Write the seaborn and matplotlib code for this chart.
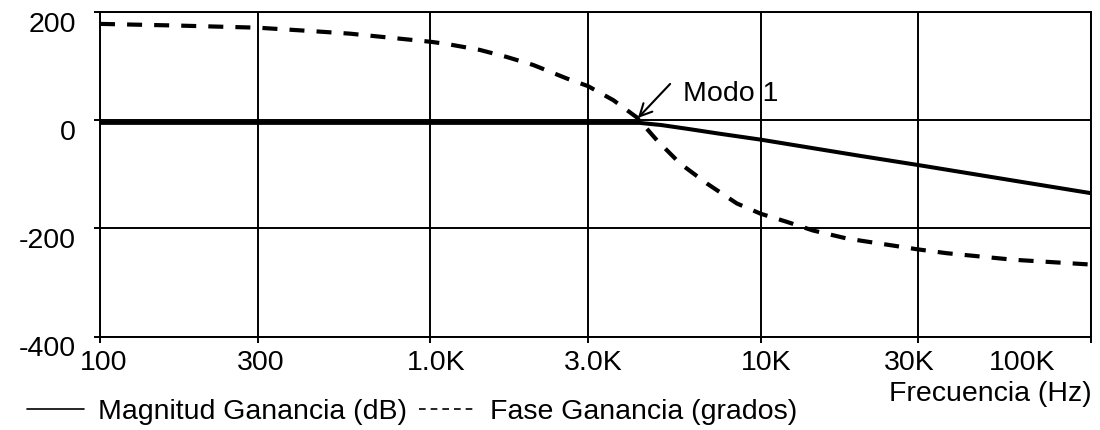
import numpy as np
import pandas as pd
import matplotlib
matplotlib.use("Agg")
import matplotlib.pyplot as plt
import seaborn as sns
from matplotlib.lines import Line2D
from matplotlib.ticker import NullLocator, FixedLocator
from matplotlib.transforms import ScaledTranslation

# ---------------- data ----------------
freq_mag = [100, 4300, 5000, 6000, 7500, 10000, 20000, 30000, 60000, 100000]
mag_db = [-5, -5, -9, -16, -25, -36, -66, -83, -113, -135]

freq_phase = [100, 170, 300, 430, 570, 1000, 1120, 1410, 1700, 2050, 2590,
              3000, 3580, 4220, 4850, 5700, 6870, 8470, 10000, 12000, 14400,
              18300, 30000, 36600, 58000, 100000]
phase_deg = [178, 175, 171, 165, 160, 145, 141, 130, 117, 102, 77,
             63, 37, 5, -37, -80, -117, -154, -173, -188, -204,
             -219, -239, -246, -258, -267]

xtick_values = [100, 300, 1000, 3000, 10000, 30000, 100000]
xtick_labels = ["100", "300", "1.0K", "3.0K", "10K", "30K", "100K"]
ytick_values = [-400, -200, 0, 200]
ytick_labels = ["-400", "-200", "0", "200"]

series_names = ["Magnitud Ganancia (dB)", "Fase Ganancia (grados)"]
x_title = "Frecuencia (Hz)"
annot_text = "Modo 1"
annot_tip = (4250, 4)
annot_tail = (5320, 67)
annot_text_pos = (5820, 35)

# ---------------- style ----------------
sns.set_theme(style="white")
plt.rcParams["font.family"] = ["Liberation Sans", "DejaVu Sans"]
plt.rcParams["text.color"] = "black"
plt.rcParams["axes.labelcolor"] = "black"
plt.rcParams["xtick.color"] = "black"
plt.rcParams["ytick.color"] = "black"
FS = 20.5

fig = plt.figure(figsize=(11, 4.3), dpi=100)
ax = fig.add_axes([100 / 1100, 1 - 336.5 / 430, 991 / 1100, (336.5 - 12) / 430])
ax.set_xscale("log")

df_mag = pd.DataFrame({"f": freq_mag, "v": mag_db})
df_ph = pd.DataFrame({"f": freq_phase, "v": phase_deg})

sns.lineplot(data=df_mag, x="f", y="v", ax=ax, color="black", lw=2.9,
             solid_capstyle="butt", zorder=3)
sns.lineplot(data=df_ph, x="f", y="v", ax=ax, color="black", lw=3.0,
             linestyle=(0, (3.6, 2.9)), zorder=3)

ax.set_xlim(100, 100000)
ax.set_ylim(-400, 200)
ax.xaxis.set_major_locator(FixedLocator(xtick_values))
ax.xaxis.set_minor_locator(NullLocator())
ax.set_xticklabels(xtick_labels)
ax.set_yticks(ytick_values)
ax.set_yticklabels(ytick_labels)
ax.set_xlabel("")
ax.set_ylabel("")

ax.grid(True, which="major", color="black", lw=1.4)
ax.set_axisbelow(True)
for s in ax.spines.values():
    s.set_color("black")
    s.set_linewidth(1.4)
    s.set_visible(True)

ax.tick_params(axis="both", which="major", direction="out", length=4.5,
               width=1.4, color="black", labelsize=FS, labelcolor="black",
               bottom=True, left=True)
ax.tick_params(axis="x", pad=5.0)
ax.tick_params(axis="y", pad=13)

# small label offsets, as in the reference
x_shift_px = [4, 3, 6, 5, 6, -9, -69]
for lab, dx in zip(ax.get_xticklabels(), x_shift_px):
    lab.set_transform(lab.get_transform() + ScaledTranslation(dx / 100, 0, fig.dpi_scale_trans))
for lab in ax.get_yticklabels():
    lab.set_transform(lab.get_transform() + ScaledTranslation(0, -10 / 100, fig.dpi_scale_trans))

# annotation
ax.annotate("", xy=annot_tip, xytext=annot_tail,
            arrowprops=dict(arrowstyle="->", color="black", lw=1.5,
                            mutation_scale=22, shrinkA=0, shrinkB=0), zorder=5)
ax.text(annot_text_pos[0], annot_text_pos[1], annot_text, ha="left",
        va="baseline", fontsize=FS, color="black", zorder=5)

# axis title
fig.text(1092 / 1100, 1 - 401 / 430, x_title, ha="right", va="baseline",
         fontsize=FS, color="black")

# legend
handles = [Line2D([], [], color="black", lw=1.2),
           Line2D([], [], color="black", lw=1.2, linestyle=(0, (4, 3)))]
leg = fig.legend(handles, series_names, loc="center left",
                 bbox_to_anchor=(27 / 1100, 1 - 412 / 430), ncol=2, frameon=False,
                 fontsize=FS, handlelength=2.0, handletextpad=0.5,
                 columnspacing=0.4, borderpad=0, borderaxespad=0)
for t in leg.get_texts():
    t.set_color("black")

fig.savefig("out.png", dpi=100, facecolor="white")
